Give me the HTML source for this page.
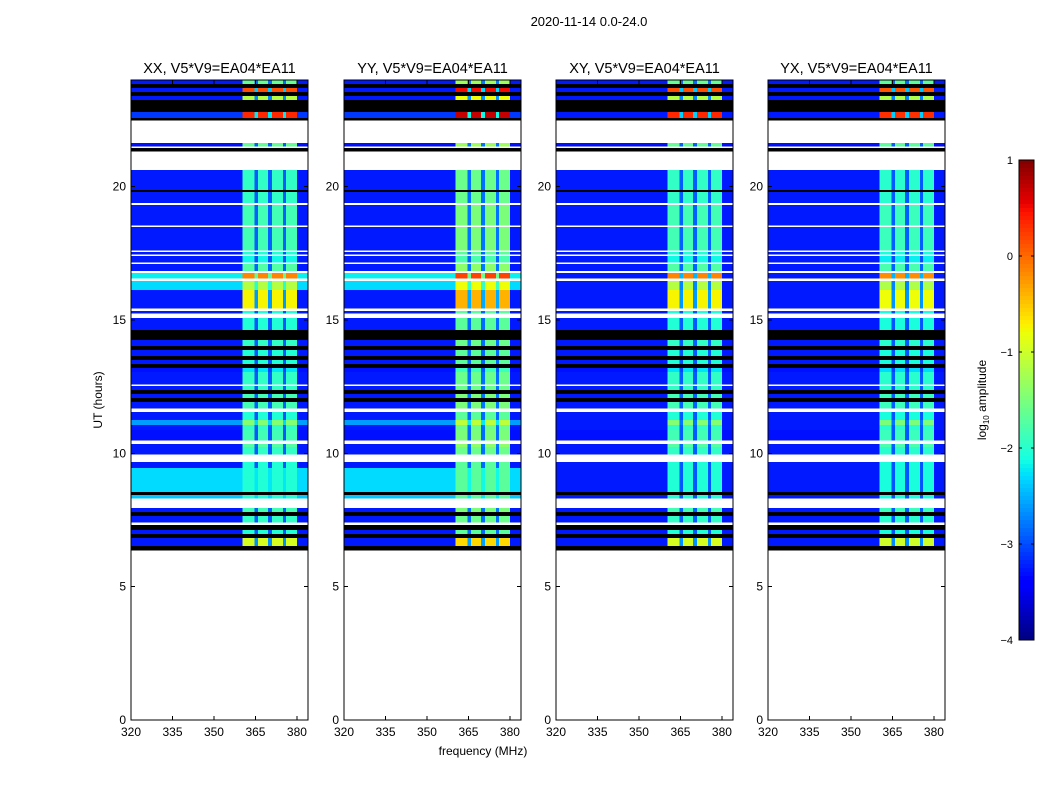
<!DOCTYPE html>
<html><head><meta charset="utf-8"><style>
body{margin:0;background:#fff;font-family:"Liberation Sans",sans-serif}
svg text{font-family:"Liberation Sans",sans-serif}
</style></head><body>
<svg id="fig" width="1050" height="800" viewBox="0 0 1050 800" xmlns="http://www.w3.org/2000/svg" shape-rendering="crispEdges">
<text x="589" y="26" font-size="13" text-anchor="middle">2020-11-14 0.0-24.0</text>
<text x="483" y="755" font-size="12" text-anchor="middle">frequency (MHz)</text>
<text x="102" y="400" font-size="12" text-anchor="middle" transform="rotate(-90 102 400)">UT (hours)</text>
<g id="panels"></g>
<g id="cbar"></g>
</svg>
<script>
const panelTitles=["XX, V5*V9=EA04*EA11","YY, V5*V9=EA04*EA11","XY, V5*V9=EA04*EA11","YX, V5*V9=EA04*EA11"];
const panelLeft=[131,344,556,768];
const panelBandShift=[-0.15,0.2,-0.15,-0.2];
const panelCross=[0,0,1,1];
const xTicks=[320,335,350,365,380];
const yTicks=[0,5,10,15,20];
const cbTicks=[1,0,-1,-2,-3,-4];
const colStart=[320,360.4,364.7,366,369.5,371,375,376,380];
const colEnd=[360.4,364.7,366,369.5,371,375,376,380,384];
const colBand=[0,1,0.25,1,0.25,1,0.25,1,0];
const rowStart=[23.85,23.7,23.55,23.4,23.25,22.8,22.57,22.5,21.63,21.52,21.45,21.33,20.62,19.87,19.8,19.39,19.31,18.56,18.48,17.62,17.55,17.47,17.4,17.17,17.1,16.84,16.76,16.57,16.46,16.12,15.45,15.34,15.26,15.07,14.62,14.25,14.02,13.87,13.65,13.5,13.35,13.2,13.05,12.6,12.52,12.37,12.22,12.07,11.92,11.7,11.55,11.25,11.06,10.87,10.5,10.35,10.24,9.97,9.67,9.45,8.55,8.44,8.32,7.95,7.8,7.65,7.42,7.31,7.12,6.97,6.82,6.52,6.37,0];
const rowEnd=[24,23.85,23.7,23.55,23.4,23.25,22.8,22.57,22.5,21.63,21.52,21.45,21.33,20.62,19.87,19.8,19.39,19.31,18.56,18.48,17.62,17.55,17.47,17.4,17.17,17.1,16.84,16.76,16.57,16.46,16.12,15.45,15.34,15.26,15.07,14.62,14.25,14.02,13.87,13.65,13.5,13.35,13.2,13.05,12.6,12.52,12.37,12.22,12.07,11.92,11.7,11.55,11.25,11.06,10.87,10.5,10.35,10.24,9.97,9.67,9.45,8.55,8.44,8.32,7.95,7.8,7.65,7.42,7.31,7.12,6.97,6.82,6.52,6.37];
// 'W' = no data (white), 'K' = flagged (black), number = log10 amplitude
const rowBase=[-3.25,'K',-3.25,'K',-3.25,'K',-3.1,'K','W',-3.3,'W','K','W',-3.25,'K',-3.25,'W',-3.25,'W',-3.25,'W',-3.25,'W',-3.25,'W',-3.25,'W',-2.2,'W',-2.3,-3.25,'W',-3.25,'W',-3.25,'K',-3.25,'K',-3.25,'K',-3.25,'K',-3.3,-3.25,'W',-3.25,'K',-3.25,'K',-3.25,'W',-3.25,-2.6,-3.25,-3.3,'W',-3.25,-3.25,'W',-3.25,-2.3,'K',-2.4,'W',-3.25,'K',-3.25,'W','K',-3.25,'K',-3.25,'K','W'];
const rowBandVal=[-1.5,0,0.3,0,-1,0,0.5,0,0,-1.5,0,0,0,-1.8,0,-1.8,0,-1.7,0,-1.7,0,-1.9,0,-2,0,-1.6,0,0,0,-1,-0.6,0,-1.9,0,-1.9,0,-1.8,0,-1.9,0,-1.9,0,-2.1,-1.8,0,-1.8,0,-1.7,0,-1.7,0,-1.9,-1.3,-1.8,-1.7,0,-1.6,-1.8,0,-1.9,-1.9,0,-1.9,0,-1.7,0,-1.8,0,0,-1.9,0,-0.8,0,0];

const NS="http://www.w3.org/2000/svg";
const PW=177, PT=80, PB=720;
function el(tag,attrs,parent){const e=document.createElementNS(NS,tag);for(const k in attrs)e.setAttribute(k,attrs[k]);parent.appendChild(e);return e;}
function interp(pts,t){for(let i=1;i<pts.length;i++){if(t<=pts[i][0]){const a=pts[i-1],b=pts[i];return a[1]+(b[1]-a[1])*(t-a[0])/(b[0]-a[0]);}}return pts[pts.length-1][1];}
function jet(v){let t=(v+4)/5;t=Math.max(0,Math.min(1,t));
 const r=interp([[0,0],[0.35,0],[0.66,1],[0.89,1],[1,0.5]],t);
 const g=interp([[0,0],[0.125,0],[0.375,1],[0.64,1],[0.91,0],[1,0]],t);
 const b=interp([[0,0.5],[0.11,1],[0.34,1],[0.65,0],[1,0]],t);
 return `rgb(${Math.round(r*255)},${Math.round(g*255)},${Math.round(b*255)})`;}
function yScale(h){return PB-(h/24)*(PB-PT);}
const panels=document.getElementById('panels');
for(let p=0;p<4;p++){
 const L=panelLeft[p];
 const xScale=f=>L+(f-320)/(384-320)*PW;
 const g=el('g',{},panels);
 
 
 for(let r=0;r<rowStart.length;r++){
  const y0=yScale(rowEnd[r]),y1=yScale(rowStart[r]);
  const base=rowBase[r];
  if(base==='W')continue;
  for(let c=0;c<colStart.length;c++){
   let fill;
   if(base==='K')fill='#000';
   else{
    let b=panelCross[p]?Math.min(base,-3.25):base;
    const band=rowBandVal[r]+panelBandShift[p];
    fill=jet(b+(band-b)*colBand[c]);
   }
   const x0=xScale(colStart[c]),x1=xScale(colEnd[c]);
   const rc=el('rect',{x:x0.toFixed(2),y:y0.toFixed(2),width:(x1-x0+0.4).toFixed(2),height:(y1-y0+0.3).toFixed(2),fill:fill},g);
   
   
  }
 }
 const frame=el('rect',{x:L,y:PT,width:PW,height:PB-PT,fill:'none',stroke:'#000','stroke-width':1},g);
 
 
 const t=el('text',{x:L+PW/2,y:PT-7,'font-size':14.5,'text-anchor':'middle'},g);
 t.textContent=panelTitles[p];
 
 
 xTicks.forEach(v=>{const x=xScale(v);
  el('line',{x1:x,x2:x,y1:PB,y2:PB-4,stroke:'#000'},g);
  el('line',{x1:x,x2:x,y1:PT,y2:PT+4,stroke:'#000'},g);
  const tx=el('text',{x:x,y:PB+16,'font-size':12,'text-anchor':'middle'},g);tx.textContent=v;
  
  });
 yTicks.forEach(v=>{const y=yScale(v);
  el('line',{x1:L,x2:L+4,y1:y,y2:y,stroke:'#000'},g);
  el('line',{x1:L+PW,x2:L+PW-4,y1:y,y2:y,stroke:'#000'},g);
  const ty=el('text',{x:L-5,y:y+4,'font-size':12,'text-anchor':'end'},g);ty.textContent=v;
  
  });
}
// colorbar
const cb=document.getElementById('cbar');
const CX=1019,CW=15,CT=160,CB=640;
const cbScale=v=>CT+(1-v)/5*(CB-CT);
for(let i=0;i<120;i++){const v=1-i*5/120;
 const r=el('rect',{x:CX,y:cbScale(v),width:CW,height:(CB-CT)/120+0.5,fill:jet(v-5/240)},cb);
 
 }
const cf=el('rect',{x:CX,y:CT,width:CW,height:CB-CT,fill:'none',stroke:'#000'},cb);


cbTicks.forEach(v=>{const y=cbScale(v);
 el('line',{x1:CX,x2:CX+3,y1:y,y2:y,stroke:'#000'},cb);
 el('line',{x1:CX+CW,x2:CX+CW-3,y1:y,y2:y,stroke:'#000'},cb);
 const t=el('text',{x:CX-6,y:y+4,'font-size':11,'text-anchor':'end'},cb);t.textContent=v<0?'\u2212'+(-v):v;
 
 });
const cl=el('text',{x:986,y:400,'font-size':12,'text-anchor':'middle',transform:'rotate(-90 986 400)'},cb);
cl.innerHTML='log<tspan font-size="8" dy="3">10</tspan><tspan dy="-3"> amplitude</tspan>';


</script>
</body></html>
